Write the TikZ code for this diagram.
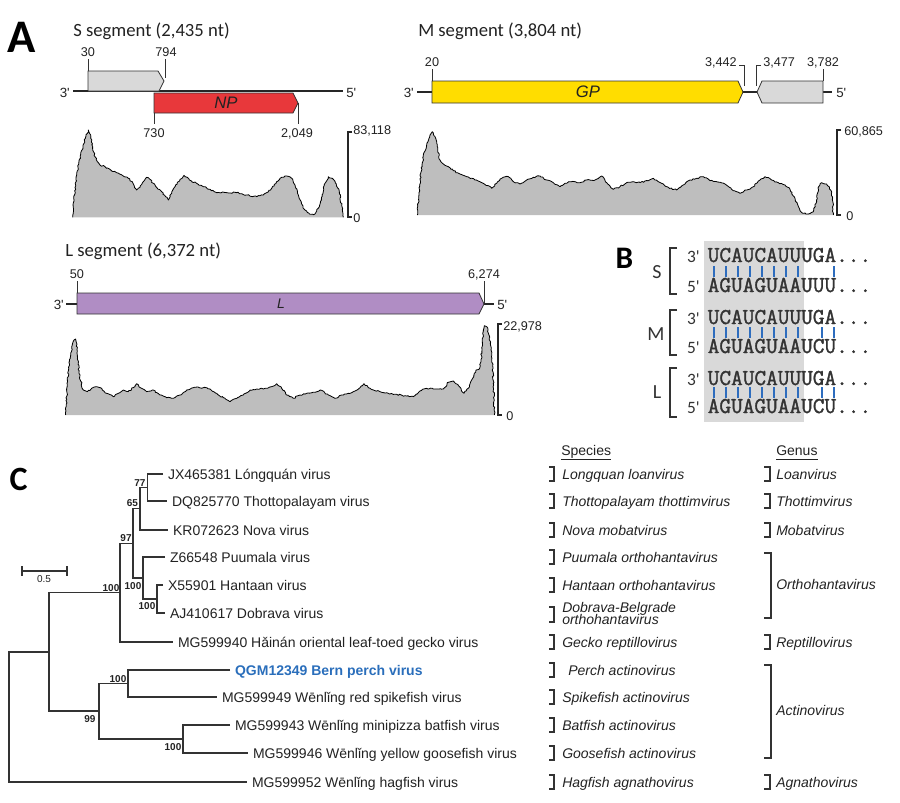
\documentclass[tikz,border=0pt]{standalone}
\usepackage{fontspec}
\setmainfont{Liberation Sans}[Ligatures=TeXOff]
\newfontfamily\calib{Carlito}[Ligatures=TeXOff]
\newfontfamily\seqfont[FakeBold=1.5]{Latin Modern Mono}
\usetikzlibrary{decorations.pathmorphing}
\definecolor{txt}{HTML}{222222}
\definecolor{orfgray}{HTML}{D9D9D9}
\definecolor{npred}{HTML}{E8383B}
\definecolor{gpyel}{HTML}{FFDD00}
\definecolor{lpurp}{HTML}{B08DC4}
\definecolor{covgray}{HTML}{BEBEBE}
\definecolor{bgray}{HTML}{D9D9D9}
\definecolor{pairblue}{HTML}{2E6DBE}
\definecolor{qgmblue}{HTML}{2A6EBB}
\definecolor{linec}{HTML}{333333}
\def\covS{(222,600) -- (228,540) -- (236,490) -- (246,450) -- (256,415) -- (265,390) -- (272,405) -- (278,440) -- (285,470) -- (292,485) -- (300,495) -- (315,500) -- (330,508) -- (350,518) -- (370,528) -- (385,535) -- (398,548) -- (410,570) -- (420,562) -- (430,545) -- (440,532) -- (450,538) -- (460,550) -- (470,562) -- (485,575) -- (497,590) -- (505,600) -- (515,580) -- (525,560) -- (540,538) -- (552,526) -- (562,532) -- (575,545) -- (590,550) -- (610,560) -- (630,568) -- (650,578) -- (680,578) -- (710,578) -- (740,585) -- (770,590) -- (790,585) -- (800,578) -- (815,565) -- (830,545) -- (845,532) -- (860,528) -- (875,535) -- (885,555) -- (895,585) -- (905,612) -- (915,630) -- (930,643) -- (945,642) -- (958,620) -- (966,585) -- (975,550) -- (985,530) -- (997,535) -- (1008,550) -- (1018,575) -- (1025,615) -- (1030,652)}
\def\covM{(56,590) -- (62,520) -- (70,470) -- (80,435) -- (90,405) -- (97,395) -- (105,410) -- (112,440) -- (120,480) -- (130,492) -- (145,500) -- (160,512) -- (180,522) -- (200,530) -- (225,540) -- (250,550) -- (275,565) -- (290,550) -- (305,535) -- (325,530) -- (340,545) -- (360,552) -- (380,540) -- (400,532) -- (420,528) -- (440,540) -- (460,548) -- (480,560) -- (495,550) -- (515,545) -- (540,548) -- (560,540) -- (585,540) -- (605,528) -- (620,548) -- (640,568) -- (660,560) -- (680,548) -- (700,545) -- (720,548) -- (745,542) -- (760,535) -- (775,545) -- (790,552) -- (810,565) -- (830,570) -- (850,555) -- (870,540) -- (890,535) -- (910,530) -- (930,542) -- (950,545) -- (975,552) -- (1000,572) -- (1020,580) -- (1040,570) -- (1060,560) -- (1080,540) -- (1095,530) -- (1115,540) -- (1135,548) -- (1155,555) -- (1170,568) -- (1185,595) -- (1198,625) -- (1208,640) -- (1225,642) -- (1240,635) -- (1250,605) -- (1256,560) -- (1265,548) -- (1280,552) -- (1292,570) -- (1297,590) -- (1300,645)}
\def\covL{(202,480) -- (208,410) -- (215,370) -- (222,345) -- (227,342) -- (232,380) -- (237,440) -- (242,468) -- (250,495) -- (262,500) -- (275,490) -- (290,485) -- (305,490) -- (320,505) -- (340,515) -- (355,505) -- (370,495) -- (385,500) -- (400,488) -- (410,476) -- (425,490) -- (440,500) -- (460,495) -- (480,510) -- (500,518) -- (520,520) -- (540,510) -- (560,495) -- (580,488) -- (610,488) -- (630,492) -- (650,505) -- (670,518) -- (690,530) -- (710,520) -- (730,510) -- (750,495) -- (770,492) -- (795,490) -- (815,485) -- (830,476) -- (845,490) -- (860,510) -- (880,520) -- (900,510) -- (920,505) -- (945,502) -- (965,496) -- (985,510) -- (1005,520) -- (1025,510) -- (1045,505) -- (1065,498) -- (1080,488) -- (1092,476) -- (1105,488) -- (1120,495) -- (1140,500) -- (1165,505) -- (1190,508) -- (1215,512) -- (1240,515) -- (1260,498) -- (1280,490) -- (1305,492) -- (1330,492) -- (1345,472) -- (1360,468) -- (1375,482) -- (1392,505) -- (1405,490) -- (1418,460) -- (1428,435) -- (1438,432) -- (1443,410) -- (1447,350) -- (1453,302) -- (1460,305) -- (1467,330) -- (1473,365) -- (1478,420) -- (1481,480) -- (1483,570)}
\begin{document}
\begin{tikzpicture}[x=0.75pt,y=-0.75pt,
  hdr/.style={font=\calib\fontsize{14}{16}\selectfont,text=txt,inner sep=0pt,anchor=base west},
  panel/.style={text=black,inner sep=0pt,anchor=base},
  endlab/.style={font=\fontsize{10}{12}\selectfont,text=txt,inner sep=0pt},
  poslab/.style={font=\fontsize{9.5}{11}\selectfont,text=txt,inner sep=0pt,anchor=base},
  orf/.style={draw=linec,line width=0.6pt},
  bb/.style={draw=black!85,line width=1.2pt},
  tk/.style={draw=linec,line width=0.6pt},
  ax/.style={draw=black!85,line width=0.9pt},
  covline/.style={draw=black,line width=0.6pt,line join=round},
  tree/.style={draw=linec,line width=0.9pt},
  leaf/.style={font=\fontsize{10.5}{12}\selectfont,text=txt,anchor=west,inner xsep=3.6pt,inner ysep=0pt,text height=7.5pt,text depth=0pt},
  boot/.style={font=\bfseries\fontsize{7.5}{8}\selectfont,text=txt,inner sep=0pt},
  spec/.style={font=\itshape\fontsize{10.5}{12}\selectfont,text=txt,anchor=west,inner sep=0pt,text height=7.5pt,text depth=0pt},
  colhead/.style={font=\fontsize{10.5}{12}\selectfont,text=txt,anchor=base west,inner sep=0pt,text depth=0pt},
  brk/.style={draw=linec,line width=0.9pt},
  seq/.style={font=\seqfont\fontsize{17}{17}\selectfont,text=linec,anchor=base west,inner sep=0pt},
  pend/.style={font=\calib\fontsize{13}{14}\selectfont,text=linec,anchor=base east,inner sep=0pt},
  seglab/.style={font=\calib\fontsize{15}{16}\selectfont,text=linec,anchor=base,inner sep=0pt},
  pair/.style={draw=pairblue,line width=1.9pt},
  rough/.style={decoration={random steps,segment length=1.3pt,amplitude=0.55pt}}
]
\useasboundingbox (0,0) rectangle (900,803);

% ---------------- Panel A ----------------
\node[panel,font=\calib\bfseries\fontsize{35}{35}\selectfont] (pA) at (21.5,52) {A};

% S segment
\node[hdr] (hS) at (73,36.5) {S segment (2,435 nt)};
\coordinate (s3) at (73,91); \coordinate (s5) at (343,91);
\draw[bb] (s3) -- (s5);
\node[endlab,anchor=base east] (s3l) at (70,97) {3'};
\node[endlab,anchor=base west] (s5l) at (346,97) {5'};
\draw[orf,fill=orfgray] (88,71) -- (158,71) -- (164,81) -- (159,91) -- (88,91) -- cycle;
\draw[orf,fill=npred] (154,93) -- (293,93) -- (298,103) -- (293,113) -- (154,113) -- cycle;
\node[font=\itshape\fontsize{12.5}{14}\selectfont,text=txt] (np) at (226,103) {NP};
\draw[tk] (88,59) -- (88,71); \node[poslab] (sa) at (88,56.5) {30};
\draw[tk] (165,59) -- (165,78); \node[poslab] (sb) at (166,56.5) {794};
\draw[tk] (154,113) -- (154,124); \node[poslab] (sc) at (154,137) {730};
\draw[tk] (298,103) -- (298,124); \node[poslab] (sd) at (297,137) {2,049};
\begin{scope}[x=0.25pt,y=-0.25pt]
\pgfmathsetseed{11}
\fill[covgray] decorate[rough]{(218,652) -- \covS} -- cycle;
\pgfmathsetseed{11}
\draw[covline] decorate[rough]{(218,652) -- \covS};
\end{scope}
\draw[ax] (352,132) -- (348,132) -- (348,217) -- (352,217);
\node[poslab,anchor=base west] (smax) at (353,134) {83,118};
\node[poslab,anchor=base west] (smin) at (353,222) {0};

% M segment
\node[hdr] (hM) at (418,36.5) {M segment (3,804 nt)};
\draw[bb] (417,92) -- (832,92);
\node[endlab,anchor=base east] (m3l) at (414,97.5) {3'};
\node[endlab,anchor=base west] (m5l) at (836,97.5) {5'};
\draw[orf,fill=gpyel] (432,81) -- (738,81) -- (743,92) -- (738,103) -- (432,103) -- cycle;
\node[font=\itshape\fontsize{12.5}{14}\selectfont,text=txt] (gp) at (588,92) {GP};
\draw[orf,fill=orfgray] (757,92) -- (762,81) -- (823,81) -- (823,103) -- (762,103) -- cycle;
\draw[tk] (432,69) -- (432,81); \node[poslab] (ma) at (432,66.5) {20};
\draw[tk] (739,65) -- (744,65) -- (744,86); \node[poslab,anchor=base east] (mb) at (737,66.5) {3,442};
\draw[tk] (761,65) -- (756,65) -- (756,86); \node[poslab,anchor=base west] (mc) at (763,66.5) {3,477};
\draw[tk] (823,69) -- (823,81); \node[poslab] (md) at (823,66.5) {3,782};
\begin{scope}[shift={(400,0)},x=0.25pt,y=-0.25pt]
\pgfmathsetseed{23}
\fill[covgray] decorate[rough]{(52,645) -- \covM} -- cycle;
\pgfmathsetseed{23}
\draw[covline] decorate[rough]{(52,645) -- \covM};
\end{scope}
\draw[ax] (841,130) -- (837,130) -- (837,215) -- (841,215);
\node[poslab,anchor=base west] (mmax) at (844,135) {60,865};
\node[poslab,anchor=base west] (mmin) at (846,220) {0};

% L segment
\node[hdr] (hL) at (65,256) {L segment (6,372 nt)};
\draw[bb] (66,304) -- (494,304);
\node[endlab,anchor=base east] (l3l) at (64,309) {3'};
\node[endlab,anchor=base west] (l5l) at (497,309) {5'};
\draw[orf,fill=lpurp] (77,293) -- (479,293) -- (484,304) -- (479,314) -- (77,314) -- cycle;
\node[font=\itshape\fontsize{10.5}{12}\selectfont,text=txt] (lorf) at (281,304) {L};
\draw[tk] (77,281) -- (77,293); \node[poslab] (la) at (77,278) {50};
\draw[tk] (484,281) -- (484,303); \node[poslab] (lb) at (484,278) {6,274};
\begin{scope}[shift={(0,225)},x=0.25pt,y=-0.25pt]
\pgfmathsetseed{37}
\fill[covgray] decorate[rough]{(197,570) -- \covL} -- cycle;
\pgfmathsetseed{37}
\draw[covline] decorate[rough]{(197,570) -- \covL};
\end{scope}
\draw[ax] (502,324) -- (498,324) -- (498,415) -- (502,415);
\node[poslab,anchor=base west] (lmax) at (503,330) {22,978};
\node[poslab,anchor=base west] (lmin) at (506,420) {0};

% ---------------- Panel B ----------------
\fill[bgray] (704,241) rectangle (804,422);
\node[panel,font=\calib\bfseries\fontsize{23.5}{24}\selectfont] (pB) at (624.5,268) {B};
\draw[brk] (677,248) -- (670,248) -- (670,294) -- (677,294);
\draw[brk] (677,310) -- (670,310) -- (670,355) -- (677,355);
\draw[brk] (677,368) -- (670,368) -- (670,417) -- (677,417);
\node[seglab] (bS) at (657,278) {S};
\node[seglab] (bM) at (656,340) {M};
\node[seglab] (bL) at (657,398) {L};
\node[pend] (s3p) at (700,262) {3'}; \node[seq] (s3s) at (707.5,262) {UCAUCAUUUGA...};
\node[pend] (s5p) at (700,292) {5'}; \node[seq] (s5s) at (707.5,292) {AGUAGUAAUUU...};
\node[pend] (m3p) at (700,324) {3'}; \node[seq] (m3s) at (707.5,324) {UCAUCAUUUGA...};
\node[pend] (m5p) at (700,353) {5'}; \node[seq] (m5s) at (707.5,353) {AGUAGUAAUCU...};
\node[pend] (L3p) at (700,385) {3'}; \node[seq] (L3s) at (707.5,385) {UCAUCAUUUGA...};
\node[pend] (L5p) at (700,413) {5'}; \node[seq] (L5s) at (707.5,413) {AGUAGUAAUCU...};
\foreach \i in {1,...,8,11} \draw[pair] ({708+12*(\i-0.5)},266) -- ++(0,11);
\foreach \i in {1,...,8,10,11} \draw[pair] ({708+12*(\i-0.5)},327) -- ++(0,11);
\foreach \i in {1,...,8,10,11} \draw[pair] ({708+12*(\i-0.5)},387) -- ++(0,11);

% ---------------- Panel C ----------------
\node[panel,font=\calib\bfseries\fontsize{25.5}{26}\selectfont] (pC) at (18.5,490) {C};
\draw[tree] (22,566) -- (22,576) (22,571) -- (67,571) (67,566) -- (67,576);
\node[font=\fontsize{7.5}{8}\selectfont,text=txt,inner sep=0pt] (sbar) at (44,579.5) {0.5};

\coordinate (r) at (9,717);
\coordinate (n49) at (49,652);
\coordinate (n120) at (120,592.7);
\coordinate (n97) at (133,543.4);
\coordinate (n65) at (140,508.75);
\coordinate (n77) at (147.7,487.5);
\coordinate (n143) at (143,578);
\coordinate (n156) at (157,599);
\coordinate (n99) at (99,711);
\coordinate (n128) at (128,683.5);
\coordinate (n183) at (183,739);

\node[leaf] (l1) at (163,474) {JX465381 Lóngquán virus};
\node[leaf] (l2) at (167,501) {DQ825770 Thottopalayam virus};
\node[leaf] (l3) at (168,530) {KR072623 Nova virus};
\node[leaf] (l4) at (165,557) {Z66548 Puumala virus};
\node[leaf] (l5) at (163,585) {X55901 Hantaan virus};
\node[leaf] (l6) at (165,613) {AJ410617 Dobrava virus};
\node[leaf] (l7) at (173,642) {MG599940 Hǎinán oriental leaf-toed gecko virus};
\node[leaf,text=qgmblue,font=\bfseries\fontsize{10.5}{12}\selectfont] (l8) at (230,670) {QGM12349 Bern perch virus};
\node[leaf] (l9) at (217,697) {MG599949 Wēnlǐng red spikefish virus};
\node[leaf] (l10) at (230,725) {MG599943 Wēnlǐng minipizza batfish virus};
\node[leaf] (l11) at (248,753) {MG599946 Wēnlǐng yellow goosefish virus};
\node[leaf] (l12) at (247,782) {MG599952 Wēnlǐng hagfish virus};

\draw[tree] (l1.west) -| (n77) |- (l2.west);
\draw[tree] (n77) -| (n65) |- (l3.west);
\draw[tree] (l5.west) -| (n156) |- (l6.west);
\draw[tree] (l4.west) -| (n143) |- (n156);
\draw[tree] (n65) -| (n97) |- (n143);
\draw[tree] (n97) -| (n120) |- (l7.west);
\draw[tree] (l8.west) -| (n128) |- (l9.west);
\draw[tree] (l10.west) -| (n183) |- (l11.west);
\draw[tree] (n128) -| (n99) |- (n183);
\draw[tree] (n120) -| (n49) |- (n99);
\draw[tree] (n49) -| (r) |- (l12.west);

\node[boot] (b77) at (140,483) {77};
\node[boot] (b65) at (132.5,503) {65};
\node[boot] (b97) at (126,538) {97};
\node[boot] (b120) at (111,588) {100};
\node[boot] (b143) at (133,586) {100};
\node[boot] (b156) at (147,606) {100};
\node[boot] (b128) at (118,679) {100};
\node[boot] (b99) at (90,719) {99};
\node[boot] (b183) at (173,747) {100};

% Species / Genus
\node[colhead] (hsp) at (561,455.5) {Species};
\node[colhead] (hge) at (776,455.5) {Genus};
\draw[line width=0.8pt,draw=txt] ([yshift=-3pt]hsp.south west) -- ([yshift=-3pt]hsp.south east);
\draw[line width=0.8pt,draw=txt] ([yshift=-3pt]hge.south west) -- ([yshift=-3pt]hge.south east);

\foreach \y/\t [count=\i] in {474/Longquan loanvirus, 501/Thottopalayam thottimvirus, 530/Nova mobatvirus, 557/Puumala orthohantavirus, 585/Hantaan orthohantavirus, 642/Gecko reptillovirus, 697/Spikefish actinovirus, 725/Batfish actinovirus, 753/Goosefish actinovirus, 782/Hagfish agnathovirus}
{\draw[brk] (549,\y-7) -- (554,\y-7) -- (554,\y+7) -- (549,\y+7);
 \node[spec] (sp\i) at (562,\y) {\t};}
\draw[brk] (549,663) -- (554,663) -- (554,677) -- (549,677);
\node[spec] (spP) at (568,670) {Perch actinovirus};
\draw[brk] (549,607) -- (554,607) -- (554,622) -- (549,622);
\node[spec,anchor=base west] (spD1) at (562,612) {Dobrava-Belgrade};
\node[spec,anchor=base west] (spD2) at (562,624) {orthohantavirus};

\foreach \y/\t [count=\i] in {474/Loanvirus, 501/Thottimvirus, 530/Mobatvirus, 642/Reptillovirus, 782/Agnathovirus}
{\draw[brk] (764,\y-7) -- (770,\y-7) -- (770,\y+7) -- (764,\y+7);
 \node[spec] (ge\i) at (776,\y) {\t};}
\draw[brk] (764,553) -- (771,553) -- (771,618) -- (764,618);
\node[spec] (geO) at (776,584) {Orthohantavirus};
\draw[brk] (764,665) -- (771,665) -- (771,758) -- (764,758);
\node[spec] (geA) at (776,710) {Actinovirus};
\end{tikzpicture}
\end{document}
